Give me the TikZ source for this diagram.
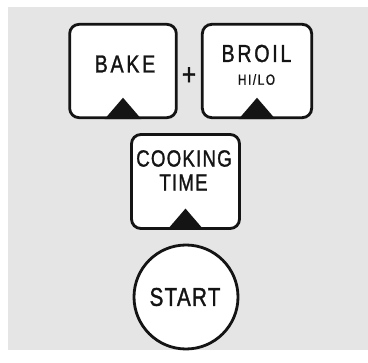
\documentclass[tikz,border=0pt]{standalone}
\usepackage{fontspec}
\setmainfont{Liberation Sans}[FakeStretch=0.8,LetterSpace=5,FakeBold=1.2]
\newfontfamily\widekeys{Liberation Sans}[FakeStretch=0.8,LetterSpace=11,FakeBold=1.2]
\usepackage{tikz}
\definecolor{panelgray}{RGB}{229,229,229}
\definecolor{inkblack}{RGB}{20,20,20}
\tikzset{
  keybox/.style={draw=inkblack, line width=2.4pt, rounded corners=8pt, fill=white,
    minimum width=3.2cm, minimum height=2.8cm, inner sep=0pt},
  keytext/.style={text=inkblack, inner sep=0pt, font=\widekeys\fontsize{21}{21}\selectfont},
  smalltext/.style={text=inkblack, inner sep=0pt, font=\widekeys\fontsize{12.5}{12.5}\selectfont},
  notch/.style={fill=inkblack}
}
\begin{document}
\begin{tikzpicture}
\useasboundingbox (0,0) rectangle (11.04,10.86);
\fill[panelgray] (0.24,0.36) rectangle (11.04,10.65);
% keys
\node[keybox] (bake) at (3.69,8.73) {};
\node[keybox, minimum width=3.28cm] (broil) at (7.71,8.73) {};
\node[keybox, minimum width=3.24cm, minimum height=2.82cm] (cook) at (5.565,5.415) {};
\node[draw=inkblack, line width=2.4pt, circle, fill=white, minimum size=3.12cm] (start) at (5.58,1.95) {};
% notches
\fill[notch] (bake.south) ++(-0.55,0) -- ++(0.55,0.64) -- ++(0.55,-0.64) -- cycle;
\fill[notch] (broil.south) ++(-0.55,0) -- ++(0.55,0.64) -- ++(0.55,-0.64) -- cycle;
\fill[notch] (cook.south) ++(-0.55,0) -- ++(0.55,0.64) -- ++(0.55,-0.64) -- cycle;
% labels
\node[keytext] (bakelbl) at (3.75,8.94) {BAKE};
\node[keytext] (broillbl) at (7.695,9.255) {BROIL};
\node[smalltext] (hilolbl) at (7.695,8.475) {HI/LO};
\node[keytext, font=\rmfamily\fontsize{20}{20}\selectfont] (cooklbl) at (5.52,6.105) {COOKING};
\node[keytext, font=\rmfamily\fontsize{20}{20}\selectfont] (timelbl) at (5.505,5.385) {TIME};
\node[keytext, font=\rmfamily\fontsize{22}{22}\selectfont] (startlbl) at (5.55,1.95) {START};
\node[keytext, font=\rmfamily\fontsize{26}{26}\selectfont] (plus) at (5.67,8.58) {+};
\end{tikzpicture}
\end{document}
